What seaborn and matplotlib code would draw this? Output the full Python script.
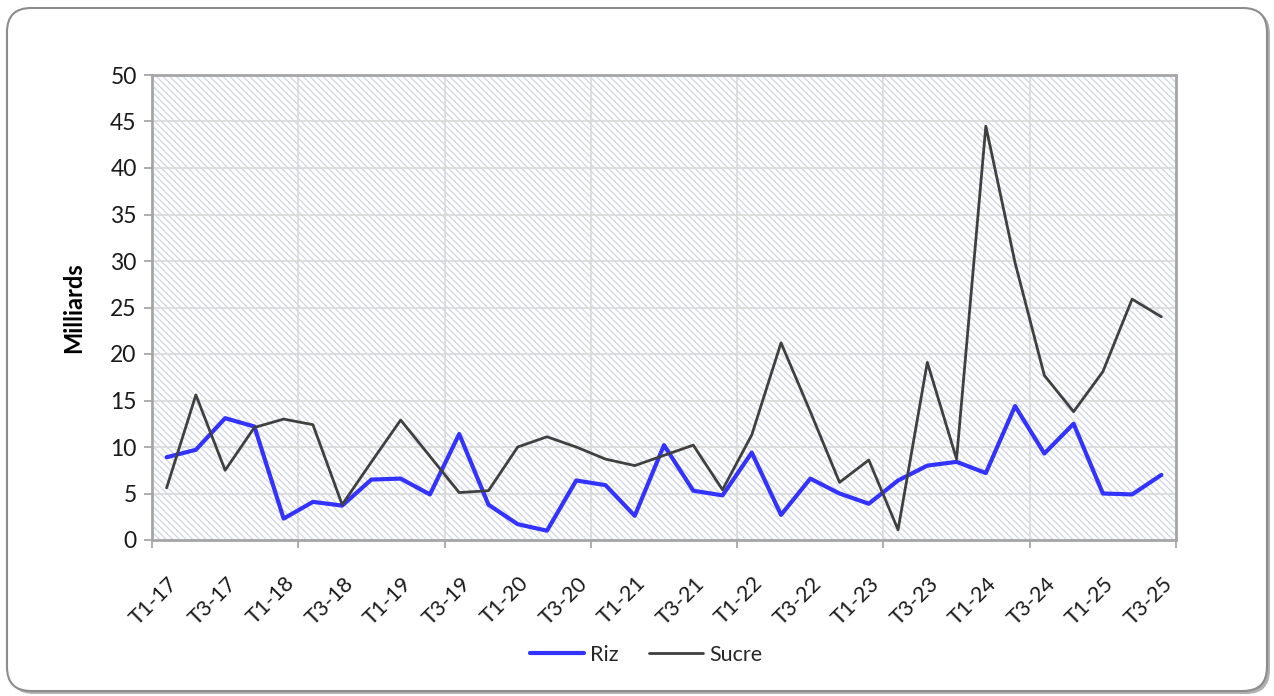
import numpy as np
import pandas as pd
import matplotlib
matplotlib.use("Agg")
import matplotlib.pyplot as plt
import seaborn as sns
from matplotlib.patches import FancyBboxPatch, Rectangle
from matplotlib.transforms import IdentityTransform, ScaledTranslation
from matplotlib.lines import Line2D

sns.set_theme(style="white")
plt.rcParams["font.family"] = ["Lato", "DejaVu Sans"]
plt.rcParams["hatch.linewidth"] = 0.9

# data
quarters = ["T1-17", "T2-17", "T3-17", "T4-17", "T1-18", "T2-18", "T3-18", "T4-18",
            "T1-19", "T2-19", "T3-19", "T4-19", "T1-20", "T2-20", "T3-20", "T4-20",
            "T1-21", "T2-21", "T3-21", "T4-21", "T1-22", "T2-22", "T3-22", "T4-22",
            "T1-23", "T2-23", "T3-23", "T4-23", "T1-24", "T2-24", "T3-24", "T4-24",
            "T1-25", "T2-25", "T3-25"]
riz = [8.9, 9.7, 13.1, 12.2, 2.3, 4.1, 3.7, 6.5, 6.6, 4.9, 11.4, 3.8,
       1.7, 1.0, 6.4, 5.9, 2.6, 10.2, 5.3, 4.8, 9.4, 2.7, 6.6, 5.0,
       3.9, 6.4, 8.0, 8.4, 7.2, 14.4, 9.3, 12.5, 5.0, 4.9, 7.0]
sucre = [5.6, 15.6, 7.5, 12.1, 13.0, 12.4, 3.8, 8.4, 12.9, 9.0, 5.1, 5.3,
         10.0, 11.1, 10.0, 8.7, 8.0, 9.1, 10.2, 5.4, 11.3, 21.2, 13.8, 6.2,
         8.6, 1.1, 19.1, 8.7, 44.5, 29.8, 17.7, 13.8, 18.1, 25.9, 24.0]
y_ticks = [0, 5, 10, 15, 20, 25, 30, 35, 40, 45, 50]

W, H = 1274, 696
fig = plt.figure(figsize=(W / 100, H / 100), dpi=100)

# rounded chart frame with a light shadow
shadow = FancyBboxPatch((10, 2), W - 14, H - 12, boxstyle="round,pad=0,rounding_size=24",
                        transform=IdentityTransform(), facecolor="#b0b0b0", edgecolor="none",
                        zorder=-3)
frame = FancyBboxPatch((7, 5), W - 14, H - 13, boxstyle="round,pad=0,rounding_size=24",
                       transform=IdentityTransform(), facecolor="white", edgecolor="#8c8c8c",
                       lw=1.5, zorder=-2)
fig.patches.extend([shadow, frame])

ax = fig.add_axes([152 / W, 1 - 540 / H, 1024 / W, 465 / H])
ax.patch.set_visible(False)
bg = Rectangle((0, 0), 1, 1, transform=ax.transAxes, facecolor="white",
               edgecolor="#d0d5e6", hatch="\\\\\\\\\\", lw=0, zorder=0)
ax.add_patch(bg)

pos = np.arange(len(quarters))
df = pd.DataFrame({"pos": pos, "Riz": riz, "Sucre": sucre})
sns.lineplot(data=df, x="pos", y="Riz", color="#3333ff", lw=3, ax=ax, zorder=3)
sns.lineplot(data=df, x="pos", y="Sucre", color="#404040", lw=2, ax=ax, zorder=4)

ax.set_xlim(-0.5, len(quarters) - 0.5)
ax.set_ylim(0, 50)
ax.set_yticks(y_ticks)
ax.set_yticklabels([str(v) for v in y_ticks], fontsize=16.5, color="#1a1a1a")

ax.set_xticks(np.arange(-0.5, len(quarters), 5))
ax.set_xticklabels([])
ax.set_xticks(pos[::2], minor=True)
ax.set_xticklabels(quarters[::2], minor=True, rotation=45, ha="right", va="center",
                   rotation_mode="anchor", fontsize=15.5, color="#1a1a1a")
ax.tick_params(axis="x", which="minor", length=0, pad=29)
ax.tick_params(axis="both", which="major", length=6, width=1.2, color="#a0a0a0",
               direction="out", bottom=True, left=True)
ax.tick_params(axis="y", pad=5)
off = ScaledTranslation(8 / 100, 0, fig.dpi_scale_trans)
for lab in ax.get_xticklabels(minor=True):
    lab.set_transform(lab.get_transform() + off)

ax.grid(True, which="major", color="#d9d9d9", lw=1.2)
ax.set_axisbelow(True)
for sp in ax.spines.values():
    sp.set_color("#a6a6a6")
    sp.set_linewidth(2)

ax.set_xlabel("")
ax.set_ylabel("Milliards", fontsize=17, fontweight="bold", color="black", labelpad=18)

handles = [Line2D([], [], color="#3333ff", lw=3), Line2D([], [], color="#404040", lw=2)]
fig.legend(handles, ["Riz", "Sucre"], loc="center", bbox_to_anchor=(646 / W, 1 - 655 / H),
           ncol=2, frameon=False, fontsize=15.5, handlelength=2.5, handletextpad=0.3,
           columnspacing=1.4)

fig.savefig("out.png", dpi=100)
